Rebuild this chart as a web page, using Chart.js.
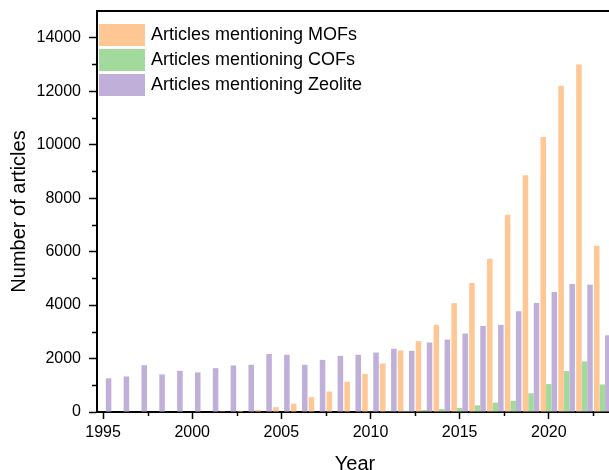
<!DOCTYPE html>
<html>
<head>
<meta charset="utf-8">
<script src="https://cdn.jsdelivr.net/npm/chart.js@4"></script>
<style>
    html, body { margin: 0; padding: 0; background: #fff; overflow: hidden; }
    #wrap { width: 620px; height: 480px; }
</style>
</head>
<body>
<div id="wrap"><canvas id="articlesChart"></canvas></div>
<script>
// values
const years = [1995, 1996, 1997, 1998, 1999, 2000, 2001, 2002, 2003, 2004,
               2005, 2006, 2007, 2008, 2009, 2010, 2011, 2012, 2013, 2014,
               2015, 2016, 2017, 2018, 2019, 2020, 2021, 2022, 2023];
const mofCounts = [0, 0, 0, 0, 0, 0, 0, 30, 40, 80,
                   180, 310, 555, 765, 1130, 1420, 1815, 2300, 2650, 3260,
                   4070, 4830, 5730, 7380, 8860, 10290, 12200, 13000, 6220];
const cofCounts = [0, 0, 0, 0, 0, 0, 0, 0, 0, 0,
                   0, 0, 0, 0, 0, 10, 30, 45, 75, 110,
                   150, 250, 350, 420, 700, 1045, 1530, 1890, 1030];
const zeoliteCounts = [1260, 1330, 1750, 1405, 1540, 1480, 1640, 1740, 1765, 2170,
                       2140, 1765, 1950, 2100, 2140, 2225, 2365, 2290, 2600, 2710,
                       2935, 3220, 3260, 3770, 4080, 4490, 4790, 4765, 2870];
const seriesLabels = ['Articles mentioning MOFs', 'Articles mentioning COFs', 'Articles mentioning Zeolite'];
const seriesColors = ['#FFC794', '#A1DA9C', '#C0AFD9'];

const xTickYears = [1995, 2000, 2005, 2010, 2015, 2020];
const xMinorYears = [1997.5, 2002.5, 2007.5, 2012.5, 2017.5, 2022.5];
const yTickValues = [0, 2000, 4000, 6000, 8000, 10000, 12000, 14000];
const yMinorValues = [1000, 3000, 5000, 7000, 9000, 11000, 13000];

const FONT = "'Liberation Sans', Arial, sans-serif";
Chart.defaults.font.family = FONT;
Chart.defaults.color = '#000';

function toPoints(values) {
    return years.map((yr, i) => ({ x: yr, y: values[i] }));
}

// minor ticks + top frame line
const framePlugin = {
    id: 'frameAndMinor',
    afterDraw(chart) {
        const { ctx, chartArea, scales: { x, y } } = chart;
        ctx.save();
        ctx.strokeStyle = '#000';
        ctx.lineWidth = 1.5;
        ctx.beginPath();
        xMinorYears.forEach(v => {
            const px = Math.round(x.getPixelForValue(v)) + 0.5;
            ctx.moveTo(px, chartArea.bottom);
            ctx.lineTo(px, chartArea.bottom + 4);
        });
        yMinorValues.forEach(v => {
            const py = Math.round(y.getPixelForValue(v)) + 0.5;
            ctx.moveTo(chartArea.left, py);
            ctx.lineTo(chartArea.left - 5, py);
        });
        ctx.stroke();

        ctx.lineWidth = 2;
        ctx.beginPath();
        ctx.moveTo(chartArea.left, chartArea.top);
        ctx.lineTo(chartArea.right, chartArea.top);
        ctx.stroke();
        ctx.restore();
    }
};

// legend sits inside the plot, top left
const insideLegend = {
    id: 'insideLegend',
    afterDraw(chart) {
        const { ctx, chartArea } = chart;
        ctx.save();
        ctx.font = '18px ' + FONT;
        ctx.textBaseline = 'middle';
        chart.data.datasets.forEach((ds, i) => {
            const top = chartArea.top + 13 + i * 25;
            ctx.fillStyle = ds.backgroundColor;
            ctx.fillRect(chartArea.left + 2, top, 46, 22);
            ctx.fillStyle = '#000';
            ctx.fillText(ds.label, chartArea.left + 54, top + 11);
        });
        ctx.restore();
    }
};

new Chart(document.getElementById('articlesChart'), {
    type: 'bar',
    data: {
        datasets: [
            { label: seriesLabels[0], data: toPoints(mofCounts), backgroundColor: seriesColors[0] },
            { label: seriesLabels[1], data: toPoints(cofCounts), backgroundColor: seriesColors[1] },
            { label: seriesLabels[2], data: toPoints(zeoliteCounts), backgroundColor: seriesColors[2] }
        ]
    },
    options: {
        responsive: true,
        maintainAspectRatio: false,
        animation: false,
        datasets: {
            bar: { categoryPercentage: 0.93, barPercentage: 1.0 }
        },
        layout: { padding: { top: 11, right: 7, left: 0, bottom: 0 } },
        plugins: {
            legend: { display: false },
            tooltip: { enabled: false }
        },
        scales: {
            x: {
                type: 'linear',
                min: 1994.66,
                max: 2023.6,
                offset: false,
                afterBuildTicks: scale => { scale.ticks = xTickYears.map(v => ({ value: v })); },
                afterFit: scale => {
                    scale.height = 68;
                    scale.paddingLeft = 0;
                    scale.paddingRight = 0;
                },
                ticks: {
                    autoSkip: false,
                    maxRotation: 0,
                    padding: 4,
                    font: { size: 16 },
                    callback: v => String(v)
                },
                grid: {
                    offset: false,
                    drawOnChartArea: false,
                    tickLength: 7,
                    tickWidth: 1.5,
                    tickColor: '#000'
                },
                border: { display: true, color: '#000', width: 2 },
                title: {
                    display: true,
                    text: 'Year',
                    font: { size: 20 },
                    padding: { top: 0, bottom: 4 }
                }
            },
            y: {
                min: 0,
                max: 15000,
                afterBuildTicks: scale => { scale.ticks = yTickValues.map(v => ({ value: v })); },
                afterFit: scale => {
                    scale.width = 97;
                    scale.paddingTop = 0;
                    scale.paddingBottom = 0;
                },
                ticks: {
                    autoSkip: false,
                    padding: 8,
                    font: { size: 16 },
                    callback: v => String(v)
                },
                grid: {
                    drawOnChartArea: false,
                    tickLength: 8,
                    tickWidth: 1.5,
                    tickColor: '#000'
                },
                border: { display: true, color: '#000', width: 2 },
                title: {
                    display: true,
                    text: 'Number of articles',
                    font: { size: 20 },
                    padding: { top: 7, bottom: 0 }
                }
            }
        }
    },
    plugins: [framePlugin, insideLegend]
});
</script>
</body>
</html>
